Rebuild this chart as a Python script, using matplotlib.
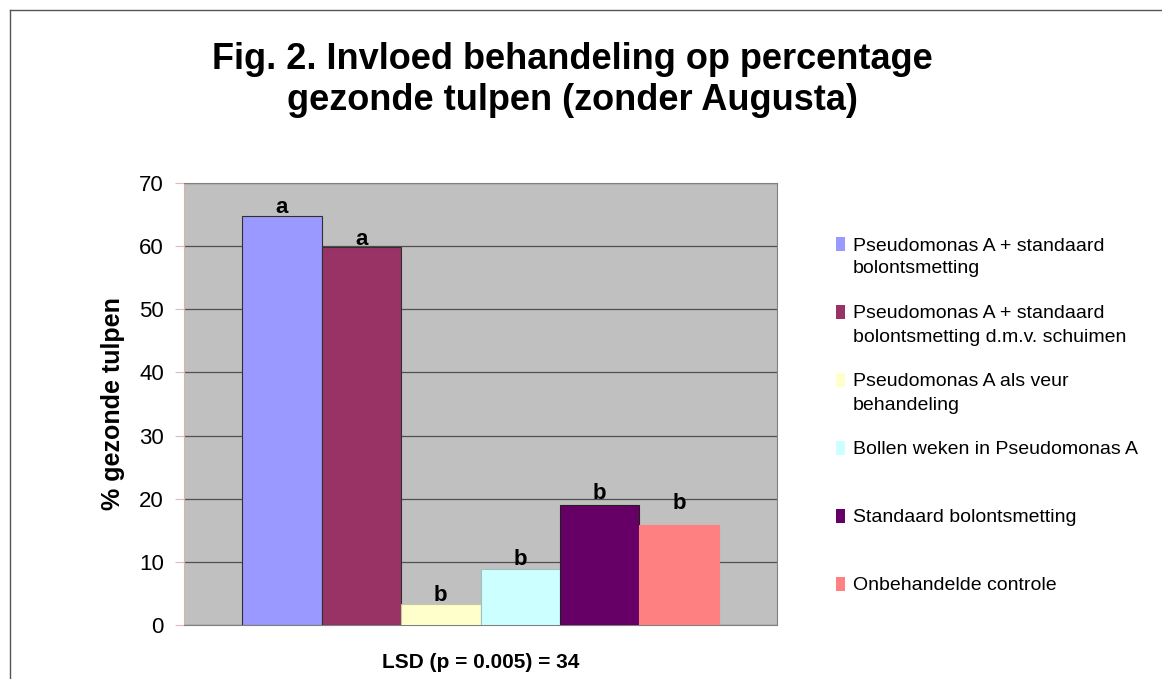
import matplotlib
matplotlib.use("Agg")
import matplotlib.pyplot as plt
from matplotlib.patches import Rectangle
from matplotlib.lines import Line2D

# ---- data ----
treatments = [
    "Pseudomonas A + standaard\nbolontsmetting",
    "Pseudomonas A + standaard\nbolontsmetting d.m.v. schuimen",
    "Pseudomonas A als veur\nbehandeling",
    "Bollen weken in Pseudomonas A",
    "Standaard bolontsmetting",
    "Onbehandelde controle",
]
values = [64.8, 59.8, 3.4, 8.9, 19.0, 15.8]
letters = ["a", "a", "b", "b", "b", "b"]
yticks = [0, 10, 20, 30, 40, 50, 60, 70]

# ---- styles ----
colors = ["#9999FF", "#993366", "#FFFFCC", "#CCFFFF", "#660066", "#FF8080"]
edges = ["#303030", "#303030", "#C8C8A0", "#A0C0C0", "#202020", "#FF8080"]
letter_offsets_pt = [2, 2, 2, 3, 4, 12]

plt.rcParams['font.family'] = ['Liberation Sans', 'DejaVu Sans']

W, H = 1162, 679
fig = plt.figure(figsize=(W / 100, H / 100), dpi=100)
fig.patch.set_facecolor("white")

# outer frame (top and left lines)
fig.add_artist(Line2D([10 / W, 10 / W], [0, 1 - 10 / H], transform=fig.transFigure,
                      color="#555555", lw=1.0))
fig.add_artist(Line2D([10 / W, 1], [1 - 10 / H, 1 - 10 / H], transform=fig.transFigure,
                      color="#555555", lw=1.0))

ax_left, ax_right = 184 / W, 777 / W
ax_top, ax_bot = 1 - 183 / H, 1 - 625 / H
ax = fig.add_axes([ax_left, ax_bot, ax_right - ax_left, ax_top - ax_bot])
ax.set_facecolor("#C0C0C0")

xpos = list(range(len(values)))
bars = ax.bar(xpos, values, width=1.0, color=colors, edgecolor=edges, linewidth=0.8, zorder=3)

for x, v, l, off in zip(xpos, values, letters, letter_offsets_pt):
    ax.annotate(l, (x, v), xytext=(0, off), textcoords="offset points",
                ha="center", va="baseline", fontsize=16, fontweight="bold", zorder=4)

ax.set_xlim(-1.23, 6.23)
ax.set_ylim(0, 70)
ax.set_yticks(yticks)
ax.set_yticklabels([str(t) for t in yticks], fontsize=16)
ax.set_xticks([])
ax.yaxis.grid(True, color="#505050", lw=0.9, zorder=1)
ax.set_axisbelow(True)
ax.tick_params(axis="y", length=6.5, width=0.8, color="#E0B8B8", pad=8)

for s in ["top", "right", "bottom"]:
    ax.spines[s].set_color("#808080")
    ax.spines[s].set_linewidth(0.8)
ax.spines["left"].set_color("#D8B0B0")
ax.spines["left"].set_linewidth(0.8)

ax.set_ylabel("% gezonde tulpen", fontsize=18, fontweight="bold", labelpad=10)
ax.set_xlabel("LSD (p = 0.005) = 34", fontsize=15, fontweight="bold", labelpad=20)

fig.text(572 / W, 1 - 80 / H,
         "Fig. 2. Invloed behandeling op percentage\ngezonde tulpen (zonder Augusta)",
         ha="center", va="center", fontsize=26, fontweight="bold", linespacing=1.2)

# legend (manual, Excel-style even slots)
first_line_y = 244
slot = 68
line_gap = 23
for i, (lab, c) in enumerate(zip(treatments, colors)):
    yc = first_line_y + i * slot
    fig.add_artist(Rectangle((836 / W, 1 - (yc + 7) / H), 9 / W, 14 / H,
                             transform=fig.transFigure, facecolor=c, edgecolor="none"))
    for k, line in enumerate(lab.split("\n")):
        fig.text(853 / W, 1 - (yc + k * line_gap) / H, line, ha="left",
                 va="center_baseline", fontsize=14)

fig.savefig("out.png", dpi=100, facecolor="white")
